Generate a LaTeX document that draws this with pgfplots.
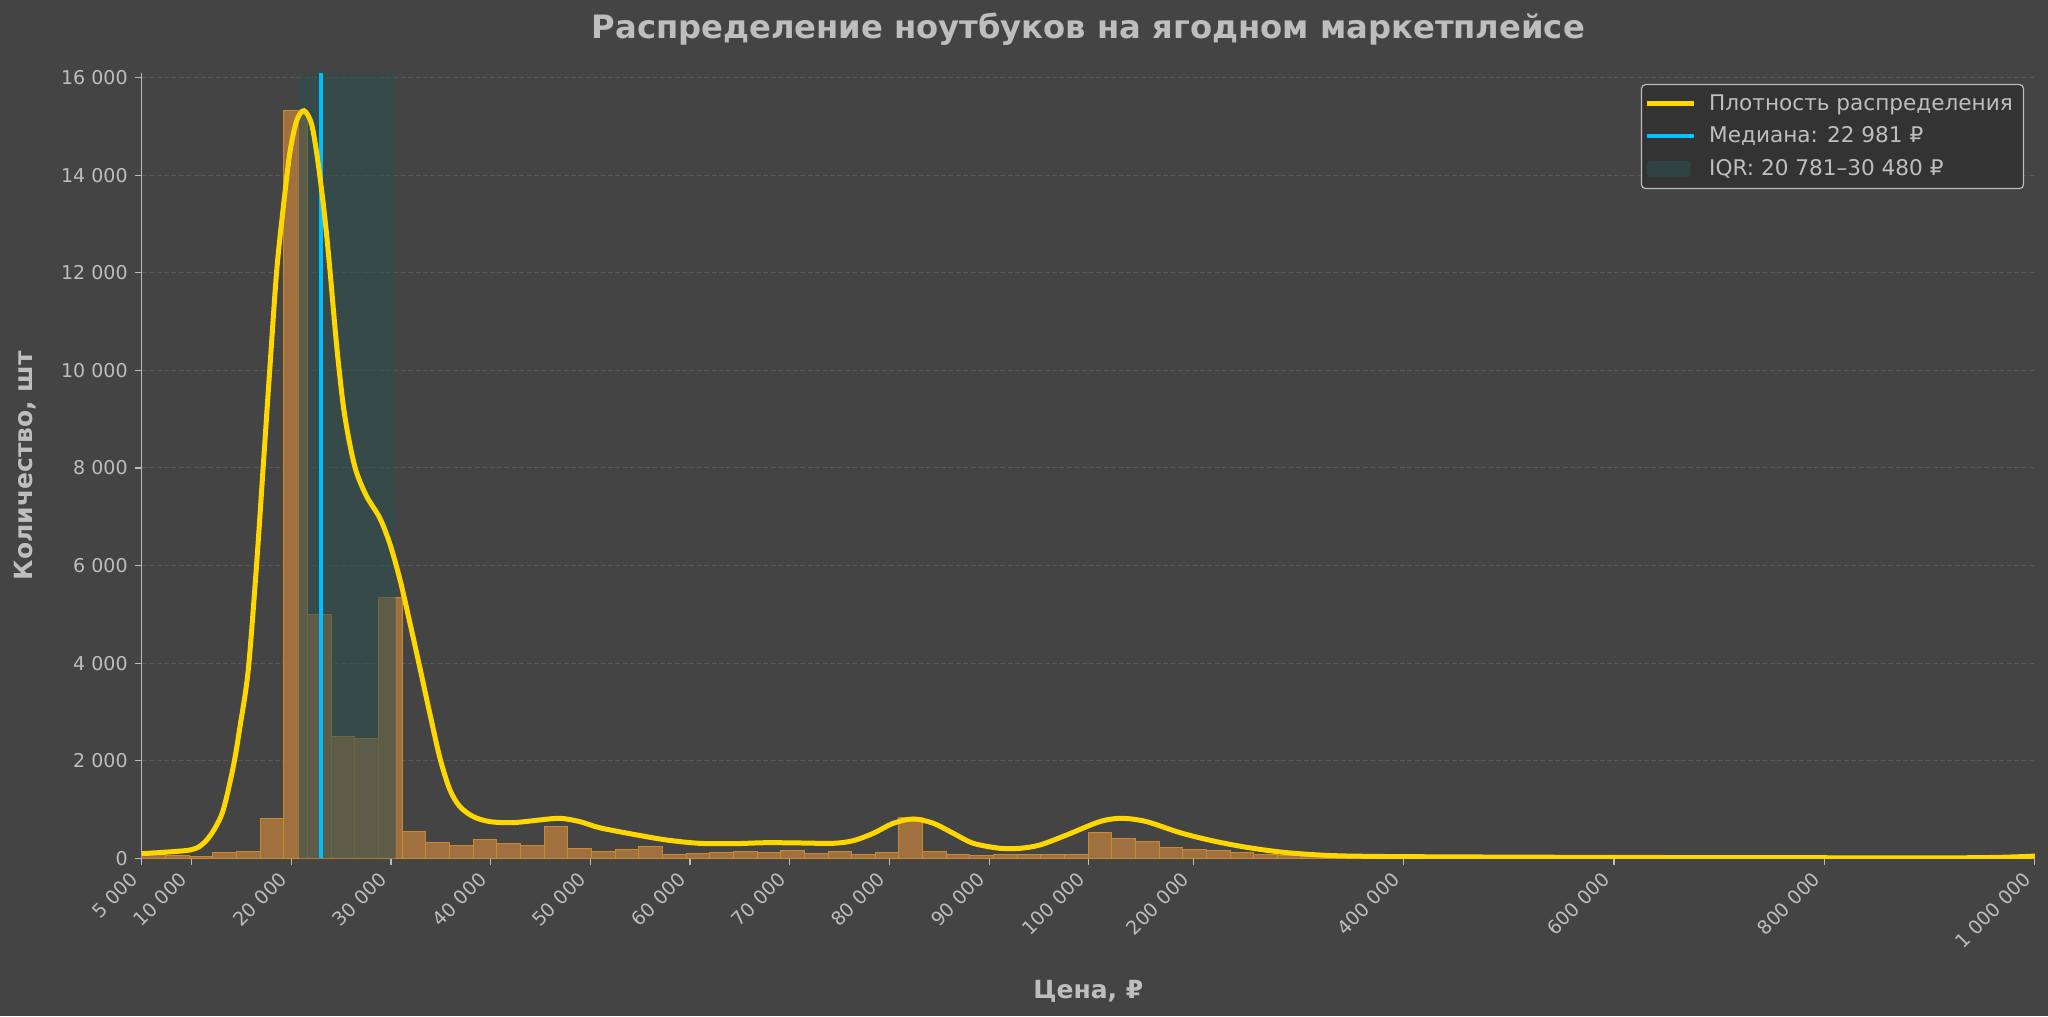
\documentclass[border=0pt]{standalone}
\usepackage{fontspec}
\setmainfont{DejaVu Sans}
\usepackage{pgfplots}
\usepackage{pgfplotstable}
\pgfplotsset{compat=1.18}
\definecolor{bgc}{HTML}{444444}
\definecolor{txt}{HTML}{BEBEBE}
\definecolor{spine}{HTML}{BBBBBB}
\definecolor{gridc}{HTML}{5A5A5A}
\definecolor{vgrid}{HTML}{4B4B4B}
\definecolor{legbg}{HTML}{333333}
\definecolor{kde}{HTML}{FFD700}
\definecolor{med}{HTML}{00BFFF}
\definecolor{barf}{HTML}{A0703F}
\definecolor{bare}{HTML}{C88A2E}
\definecolor{iqr}{HTML}{2F4F4F}
\pgfplotsset{
  lineleg/.style={legend image code/.code={\draw[##1] (0pt,0pt) -- (23.5pt,0pt); \path (26pt,0pt);}},
  patchleg/.style={legend image code/.code={\fill[##1] (0pt,-4pt) rectangle (22pt,4pt); \path (26pt,0pt);}},
}

\pgfplotstableread{
x y
5.000 80
7.374 55
9.748 40
12.121 110
14.495 130
16.869 820
19.243 15320
21.616 4990
23.990 2490
26.364 2465
28.738 5350
31.111 540
33.485 334
35.859 266
38.233 383
40.606 300
42.980 266
45.354 642
47.728 191
50.101 137
52.475 190
54.849 252
57.223 88
59.596 102
61.970 123
64.344 130
66.718 123
69.091 157
71.465 102
73.839 137
76.213 88
78.586 109
80.960 841
83.334 137
85.708 88
88.081 61
90.455 68
92.829 75
95.203 82
97.576 68
99.950 526
102.324 403
104.698 341
107.071 225
109.445 177
111.819 150
114.193 123
116.566 68
118.940 54
121.314 40
123.688 30
126.061 25
128.435 20
130.809 16
133.183 13
135.556 11
137.930 9
140.304 8
142.678 7
145.051 6
147.425 5
149.799 5
152.173 4
154.546 4
156.920 3
159.294 3
161.668 3
164.041 2
166.415 2
168.789 2
171.163 2
173.536 2
175.910 1
178.284 1
180.658 1
183.031 1
185.405 1
187.779 1
190.153 1
192.526 2
194.900 0
}\bars

\begin{document}
\begin{tikzpicture}
\fill[bgc, use as bounding box] (0,0) rectangle (1024pt,508pt);
\begin{axis}[
  at={(70.85pt,78.85pt)}, anchor=south west,
  scale only axis, width=946.6pt, height=392.5pt,
  xmin=5, xmax=194.9, ymin=0, ymax=16090,
  scaled y ticks=false, scaled x ticks=false,
  axis lines*=left,
  axis line style={spine, line width=0.75pt},
  tick style={spine, line width=0.6pt},
  tick align=outside, major tick length=3.5pt,
  xtick={5,10,20,30,40,50,60,70,80,90,100,110.48,131.58,152.68,173.78,194.88},
  xticklabels={5 000,10 000,20 000,30 000,40 000,50 000,60 000,70 000,80 000,90 000,100 000,200 000,400 000,600 000,800 000,1 000 000},
  ytick={0,2000,4000,6000,8000,10000,12000,14000,16000},
  yticklabels={0,2 000,4 000,6 000,8 000,10 000,12 000,14 000,16 000},
  tick label style={font=\fontsize{9.5}{11}\selectfont, text=txt},
  xticklabel style={xshift=-6.5pt, yshift=-1pt, rotate=45, anchor=north east, inner sep=1pt},
  ymajorgrids, xmajorgrids,
  y grid style={gridc, dash pattern=on 2.5pt off 1.2pt, line width=0.5pt},
  x grid style={vgrid, dotted, line width=0.5pt},
  title={Распределение ноутбуков на ягодном маркетплейсе},
  xlabel={Цена, ₽}, ylabel={Количество, шт},
  every axis title/.style={at={(axis description cs:0.5,1.0446)}, anchor=base, font=\fontsize{16.1}{19}\selectfont\bfseries, text=txt},
  every axis x label/.style={at={(axis description cs:0.5,-0.178)}, anchor=base, font=\fontsize{12.5}{15}\selectfont\bfseries, text=txt},
  every axis y label/.style={at={(axis description cs:-0.0577,0.5)}, rotate=90, anchor=base, font=\fontsize{12.5}{15}\selectfont\bfseries, text=txt},
  legend style={at={(axis description cs:0.99424,0.98637)}, anchor=north east, fill=legbg, draw=spine, line width=0.6pt, rounded corners=2pt, text=txt, font=\fontsize{10.8}{13}\selectfont, cells={anchor=west}, inner xsep=1.3pt, inner ysep=3pt, row sep=2.8pt, nodes={inner xsep=4pt, inner ysep=2pt}},
  reverse legend,
]
\addplot[ybar interval, fill=barf, draw=bare, line width=0.5pt, forget plot] table[x=x,y=y]{\bars};

\addplot[draw=none, fill=iqr, fill opacity=0.6, patchleg]
  coordinates {(20.781,0) (20.781,16090) (30.480,16090) (30.480,0)} \closedcycle;
\addlegendentry{IQR: 20 781–30 480 ₽}

\addplot[med, line width=2pt, lineleg]
  coordinates {(22.981,0) (22.981,16090)};
\addlegendentry{Медиана: 22 981 ₽}

\addplot[kde, line width=2.5pt, smooth, tension=0.5, lineleg]
  coordinates {
(5.0,95) (7.0,120) (9.0,150) (9.84,170) (10.7,230) (11.5,370) (12.3,600)
(13.18,990) (14.19,1880) (14.86,2700) (15.69,3863) (16.53,6037) (17.20,8064)
(17.87,10092) (18.54,12039) (19.20,13336) (19.87,14472) (20.55,15120)
(21.28,15323) (22.05,15040) (22.71,14228) (23.39,13093) (23.89,12039)
(24.56,10497) (25.22,9280) (25.89,8470) (26.56,7902) (27.57,7415)
(28.90,6968) (29.90,6441) (30.91,5711) (31.91,4820) (32.91,3900)
(33.92,2950) (34.92,2050) (35.92,1401) (36.92,1059)
(38.26,854) (39.93,751) (42.27,731) (44.95,786) (46.95,820) (48.96,751)
(50.96,625) (54.31,492) (57.66,375) (60.94,307) (64.34,300) (67.69,320)
(71.03,314) (74.37,307) (76.37,361) (78.38,512) (80.39,718) (82.39,806)
(84.40,718) (86.41,512) (88.41,307) (91.09,205) (93.09,205) (95.10,273)
(97.78,478) (101.09,751) (103.29,820) (105.80,751) (109.14,526)
(112.48,355) (115.83,225) (119.17,130) (122.51,75) (125.86,47)
(132.51,33) (149.26,20) (171.3,12) (186.4,10) (191.4,20) (194.9,45)
};
\addlegendentry{Плотность распределения}
\end{axis}
\end{tikzpicture}
\end{document}
